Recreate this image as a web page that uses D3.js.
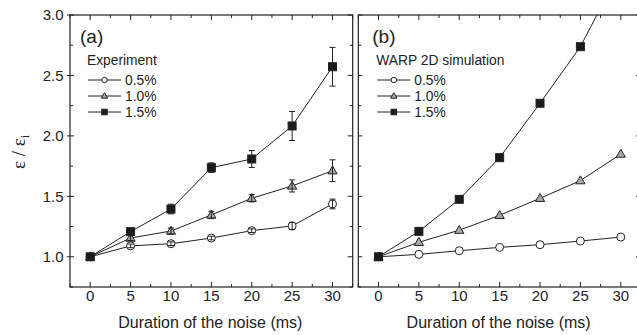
<!DOCTYPE html>
<html>
<head>
<meta charset="utf-8">
<script src="https://cdn.jsdelivr.net/npm/d3@7"></script>
<style>
  html, body { margin: 0; padding: 0; background: #fff; }
  svg { display: block; }
  text { font-family: "Liberation Sans", Arial, sans-serif; fill: #222; }
</style>
</head>
<body>
<svg id="chart" width="637" height="335"></svg>
<script>
// ---- data ----
const durations = [0, 5, 10, 15, 20, 25, 30];
const seriesNames = ["0.5%", "1.0%", "1.5%"];
const expLow   = [1.0, 1.09, 1.108, 1.155, 1.216, 1.255, 1.437];
const expMid   = [1.0, 1.155, 1.213, 1.346, 1.484, 1.586, 1.712];
const expHigh  = [1.0, 1.208, 1.395, 1.737, 1.809, 2.082, 2.572];
const errLow   = [0, 0.015, 0.015, 0.015, 0.015, 0.03, 0.04];
const errMid   = [0, 0.02, 0.025, 0.03, 0.03, 0.05, 0.09];
const errHigh  = [0, 0.02, 0.04, 0.04, 0.07, 0.12, 0.16];
const simLow   = [1.0, 1.02, 1.05, 1.078, 1.10, 1.13, 1.163];
const simMid   = [1.0, 1.12, 1.22, 1.343, 1.484, 1.63, 1.85];
const simHigh  = [1.0, 1.21, 1.475, 1.82, 2.27, 2.738, 3.38];
const xTicks = [0, 5, 10, 15, 20, 25, 30];
const xMinor = [-2.5, 2.5, 7.5, 12.5, 17.5, 22.5, 27.5, 32.5];
const yTicks = [1.0, 1.5, 2.0, 2.5, 3.0];
const yMinor = [0.75, 1.25, 1.75, 2.25, 2.75];
const panelLabels = ["(a)", "(b)"];
const legendTitles = ["Experiment", "WARP 2D simulation"];
const xTitle = "Duration of the noise (ms)";

// ---- layout ----
const svg = d3.select("#chart");
const plotTop = 15, plotBottom = 287, pw = 282.7;
const panelsX = [70, 358.3];
const ink = "#222";
const y = d3.scaleLinear().domain([0.75, 3.0]).range([plotBottom, plotTop]);

const panels = [
  { series: [expLow, expMid, expHigh], errs: [errLow, errMid, errHigh] },
  { series: [simLow, simMid, simHigh], errs: null }
];
const styles = [
  { shape: "circle", fill: "#fff" },
  { shape: "triangle", fill: "#a8a8a8" },
  { shape: "square", fill: "#1a1a1a" }
];

function marker(g, shape, cx, cy, size, fill) {
  if (shape === "circle") {
    g.append("circle").attr("cx", cx).attr("cy", cy).attr("r", size / 2)
      .attr("fill", fill).attr("stroke", ink).attr("stroke-width", 1);
  } else if (shape === "square") {
    g.append("rect").attr("x", cx - size / 2).attr("y", cy - size / 2)
      .attr("width", size).attr("height", size)
      .attr("fill", fill).attr("stroke", ink).attr("stroke-width", 1);
  } else {
    const s = size * 1.15, h = s * 0.866;
    const pts = [[cx, cy - h * 0.6], [cx - s / 2, cy + h * 0.4], [cx + s / 2, cy + h * 0.4]];
    g.append("path").attr("d", "M" + pts.map(p => p.join(",")).join("L") + "Z")
      .attr("fill", fill).attr("stroke", ink).attr("stroke-width", 1);
  }
}

svg.append("defs").selectAll("clipPath").data(panelsX).join("clipPath")
  .attr("id", (d, i) => "clip" + i)
  .append("rect").attr("x", d => d).attr("y", plotTop).attr("width", pw).attr("height", plotBottom - plotTop);

panels.forEach((p, pi) => {
  const x0 = panelsX[pi];
  const x = d3.scaleLinear().domain([-2.5, 32.5]).range([x0, x0 + pw]);
  const g = svg.append("g");

  // frame
  g.append("rect").attr("x", x0).attr("y", plotTop).attr("width", pw).attr("height", plotBottom - plotTop)
    .attr("fill", "none").attr("stroke", ink).attr("stroke-width", 1.2);

  // x ticks bottom & top
  xTicks.forEach(t => {
    g.append("line").attr("x1", x(t)).attr("x2", x(t)).attr("y1", plotBottom).attr("y2", plotBottom - 5).attr("stroke", ink);
    g.append("line").attr("x1", x(t)).attr("x2", x(t)).attr("y1", plotTop).attr("y2", plotTop + 5).attr("stroke", ink);
    g.append("text").attr("x", x(t)).attr("y", 301).attr("text-anchor", "middle")
      .attr("font-size", 15).text(t);
  });
  xMinor.forEach(t => {
    g.append("line").attr("x1", x(t)).attr("x2", x(t)).attr("y1", plotBottom).attr("y2", plotBottom - 3).attr("stroke", ink);
    g.append("line").attr("x1", x(t)).attr("x2", x(t)).attr("y1", plotTop).attr("y2", plotTop + 3).attr("stroke", ink);
  });
  // y ticks left & right
  yTicks.forEach(t => {
    const outL = pi === 0 ? 3 : 0;
    g.append("line").attr("x1", x0 - outL).attr("x2", x0 + 4).attr("y1", y(t)).attr("y2", y(t)).attr("stroke", ink);
    g.append("line").attr("x1", x0 + pw).attr("x2", x0 + pw - 5).attr("y1", y(t)).attr("y2", y(t)).attr("stroke", ink);
    if (pi === 0) {
      g.append("text").attr("x", 63.5).attr("y", y(t)).attr("dy", "0.36em").attr("text-anchor", "end")
        .attr("font-size", 15).text(d3.format(".1f")(t));
    }
  });
  yMinor.forEach(t => {
    g.append("line").attr("x1", x0).attr("x2", x0 + 3).attr("y1", y(t)).attr("y2", y(t)).attr("stroke", ink);
    g.append("line").attr("x1", x0 + pw).attr("x2", x0 + pw - 3).attr("y1", y(t)).attr("y2", y(t)).attr("stroke", ink);
  });

  // x title
  g.append("text").attr("x", x0 + pw / 2 - 1).attr("y", 328).attr("text-anchor", "middle")
    .attr("font-size", 16).text(xTitle);

  // data
  const dg = g.append("g").attr("clip-path", `url(#clip${pi})`);
  const line = d3.line().x((d, i) => x(durations[i])).y(d => y(d));
  p.series.forEach(s => {
    dg.append("path").attr("d", line(s)).attr("fill", "none").attr("stroke", ink).attr("stroke-width", 1);
  });
  p.series.forEach((s, si) => {
    s.forEach((v, i) => marker(dg, styles[si].shape, x(durations[i]), y(v), 8, styles[si].fill));
  });
  if (p.errs) {
    p.series.forEach((s, si) => {
      s.forEach((v, i) => {
        const e = p.errs[si][i];
        if (!e) return;
        const xx = x(durations[i]);
        dg.append("line").attr("x1", xx).attr("x2", xx).attr("y1", y(v - e)).attr("y2", y(v + e)).attr("stroke", ink);
        [v - e, v + e].forEach(w => dg.append("line").attr("x1", xx - 3).attr("x2", xx + 3)
          .attr("y1", y(w)).attr("y2", y(w)).attr("stroke", ink));
      });
    });
  }

  // panel label & legend
  g.append("text").attr("x", x0 + (pi === 0 ? 10 : 14)).attr("y", 43).attr("font-size", 19).text(panelLabels[pi]);
  const legX = x0 + (pi === 0 ? 17 : 18);
  g.append("text").attr("x", legX).attr("y", 65).attr("font-size", 13.8).text(legendTitles[pi]);
  seriesNames.forEach((n, si) => {
    const cy = 80 + si * 16;
    g.append("line").attr("x1", legX + 1).attr("x2", legX + 34).attr("y1", cy).attr("y2", cy).attr("stroke", ink);
    marker(g, styles[si].shape, legX + 17.5, cy, 5.5, styles[si].fill);
    g.append("text").attr("x", legX + 38).attr("y", cy).attr("dy", "0.36em").attr("font-size", 13.8).text(n);
  });
});

// y-axis title
const yt = svg.append("text").attr("transform", "translate(25,152) rotate(-90)")
  .attr("text-anchor", "middle").style("font-family", "'Liberation Serif', 'DejaVu Serif', serif").attr("font-size", 19);
yt.append("tspan").text("ε / ε");
yt.append("tspan").attr("font-size", 12).attr("dy", 4).text("i");
</script>
</body>
</html>
